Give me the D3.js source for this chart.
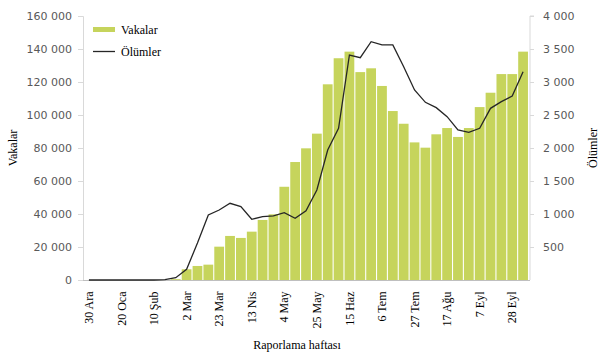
<!DOCTYPE html>
<html><head><meta charset="utf-8">
<script src="https://cdn.jsdelivr.net/npm/d3@7"></script>
<style>body{margin:0;background:#fff}svg{display:block}</style>
</head><body>
<svg id="c" width="605" height="358"></svg>
<script>
const weeks = ["30 Ara","6 Oca","13 Oca","20 Oca","27 Oca","3 Şub","10 Şub","17 Şub","24 Şub","2 Mar","9 Mar","16 Mar","23 Mar","30 Mar","6 Nis","13 Nis","20 Nis","27 Nis","4 May","11 May","18 May","25 May","1 Haz","8 Haz","15 Haz","22 Haz","29 Haz","6 Tem","13 Tem","20 Tem","27 Tem","3 Ağu","10 Ağu","17 Ağu","24 Ağu","31 Ağu","7 Eyl","14 Eyl","21 Eyl","28 Eyl","5 Eki"];
const tickWeeks = ["30 Ara","20 Oca","10 Şub","2 Mar","23 Mar","13 Nis","4 May","25 May","15 Haz","6 Tem","27 Tem","17 Ağu","7 Eyl","28 Eyl"];
const cases = [0,0,0,0,0,0,0,0,500,6500,8500,9300,20200,26700,25500,29300,36400,39800,56500,71500,79800,88700,118600,134400,138400,126000,128300,117600,102400,94700,83400,80200,88300,92100,86700,92100,104800,113500,124800,124800,138400];
const deaths = [0,0,0,0,0,0,0,5,35,162,560,985,1060,1162,1111,920,960,970,1020,935,1050,1364,1970,2298,3409,3368,3611,3561,3561,3232,2879,2692,2611,2475,2273,2237,2298,2601,2702,2788,3156];
const leftTicks = [0,20000,40000,60000,80000,100000,120000,140000,160000];
const rightTicks = [500,1000,1500,2000,2500,3000,3500,4000];
const seriesNames = ["Vakalar","Ölümler"];
const xTitle = "Raporlama haftası", yLeftTitle = "Vakalar", yRightTitle = "Ölümler";

const svg = d3.select("#c");
const x = d3.scaleBand().domain(weeks).range([83.5, 528.5]).paddingInner(0.1).paddingOuter(0.05);
const yL = d3.scaleLinear().domain([0,160000]).range([280,16]);
const yR = d3.scaleLinear().domain([0,4000]).range([280,16]);
const fmt = v => d3.format(",")(v).replace(/,/g," ");
const tickFont = "DejaVu Sans, sans-serif";
const serif = "Liberation Serif, Times New Roman, serif";

// bars
svg.append("g").selectAll("rect").data(cases).join("rect")
  .attr("x",(d,i)=>x(weeks[i])).attr("width",x.bandwidth())
  .attr("y",d=>yL(d)).attr("height",d=>yL(0)-yL(d))
  .attr("fill","#c6d45c");

// left axis
const gl = svg.append("g").attr("transform","translate(83,0)")
  .call(d3.axisLeft(yL).tickValues(leftTicks).tickFormat(fmt).tickSize(5).tickPadding(6));
// right axis
const gr = svg.append("g").attr("transform","translate(530,0)")
  .call(d3.axisRight(yR).tickValues(rightTicks).tickFormat(fmt).tickSize(4).tickPadding(9));
[gl,gr].forEach(g=>{
  g.select(".domain").attr("stroke","#d9d9d9");
  g.selectAll(".tick line").attr("stroke","#d9d9d9");
  g.selectAll("text").attr("fill","#595959").style("font-family",tickFont).style("font-size","11px");
});
gr.select(".domain").attr("d","M4,16H0V280");

// x axis
const gx = svg.append("g").attr("transform","translate(0,280.5)")
  .call(d3.axisBottom(x).tickValues(tickWeeks).tickSize(0).tickPadding(0));
gx.select(".domain").attr("stroke","#bfbfbf").attr("d","M83,0H530");
gx.selectAll("text").attr("fill","#000").style("font-family",serif).style("font-size","12px")
  .attr("transform","rotate(-90)").attr("text-anchor","end").attr("x",-11).attr("y",0).attr("dy","0.35em");

// deaths line
const line = d3.line().x((d,i)=>x(weeks[i])+x.bandwidth()/2).y(d=>yR(d));
svg.append("path").datum(deaths).attr("d",line).attr("fill","none").attr("stroke","#262626").attr("stroke-width",1.3);

// legend
svg.append("rect").attr("x",93).attr("y",27).attr("width",22).attr("height",5).attr("fill","#c6d45c");
svg.append("line").attr("x1",93).attr("x2",115).attr("y1",51.5).attr("y2",51.5).attr("stroke","#262626").attr("stroke-width",1.3);
svg.append("text").attr("x",121).attr("y",33.5).text(seriesNames[0]).style("font-family",serif).style("font-size","12px");
svg.append("text").attr("x",121).attr("y",55.5).text(seriesNames[1]).style("font-family",serif).style("font-size","12px");

// titles
svg.append("text").attr("x",297).attr("y",349).attr("text-anchor","middle").text(xTitle).style("font-family",serif).style("font-size","12px");
svg.append("text").attr("transform","translate(17,148) rotate(-90)").attr("text-anchor","middle").text(yLeftTitle).style("font-family",serif).style("font-size","12px");
svg.append("text").attr("transform","translate(597,148) rotate(-90)").attr("text-anchor","middle").text(yRightTitle).style("font-family",serif).style("font-size","12px");
</script>
</body></html>
